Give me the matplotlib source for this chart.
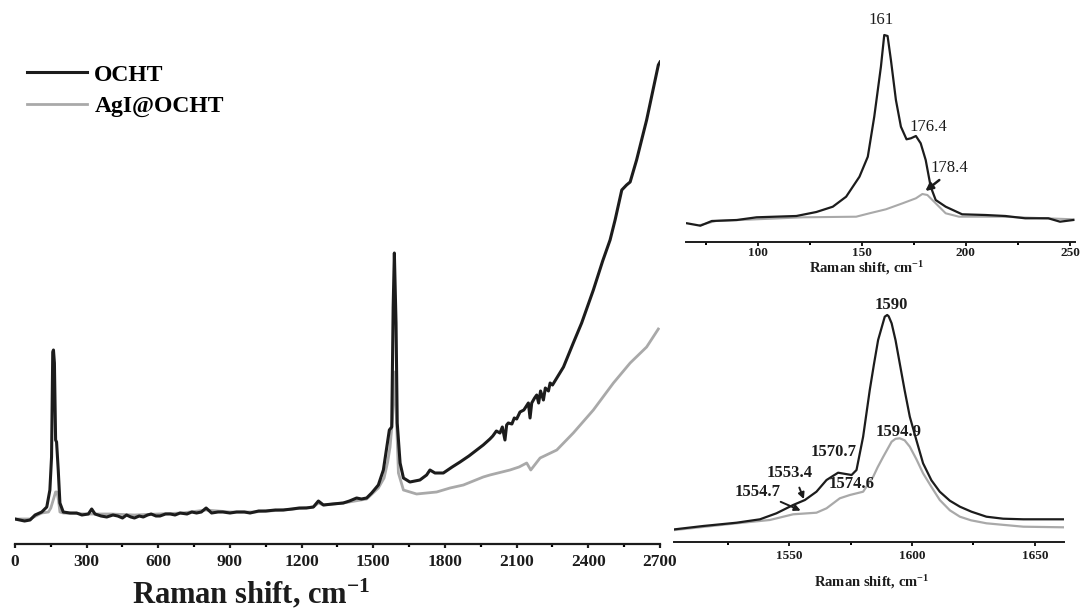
import matplotlib
matplotlib.use("Agg")
import matplotlib.pyplot as plt
from matplotlib.ticker import MultipleLocator

plt.rcParams['font.family'] = ['Liberation Serif', 'DejaVu Serif']
plt.rcParams['font.weight'] = 'bold'
plt.rcParams['mathtext.fontset'] = 'custom'
plt.rcParams['mathtext.rm'] = 'Liberation Serif:bold'
plt.rcParams['mathtext.it'] = 'Liberation Serif:bold'
plt.rcParams['mathtext.bf'] = 'Liberation Serif:bold'

# ---------------- data (arbitrary intensity units) ----
main_ocht_x = [0, 40, 63, 84, 112, 133, 146, 153, 158, 161, 165, 170, 174, 181, 188, 202,
               230, 258, 280, 307, 321, 335, 360, 384, 410, 430, 450, 467, 485, 500, 520,
               537, 555, 570, 590, 607, 630, 650, 670, 691, 720, 740, 760, 780, 800, 823,
               850, 870, 900, 928, 960, 984, 1020, 1050, 1090, 1123, 1160, 1190, 1220,
               1249, 1270, 1291, 1330, 1374, 1400, 1430, 1450, 1472, 1493, 1521, 1542,
               1559, 1567, 1577, 1583, 1588, 1595, 1600, 1612, 1626, 1653, 1695, 1723,
               1737, 1758, 1793, 1830, 1863, 1900, 1933, 1960, 1988, 2000, 2015, 2030,
               2040, 2051, 2058, 2065, 2080, 2090, 2100, 2114, 2130, 2149, 2156, 2163,
               2175, 2184, 2192, 2200, 2212, 2220, 2233, 2240, 2250, 2268, 2296, 2337,
               2372, 2421, 2460, 2491, 2512, 2540, 2560, 2575, 2602, 2644, 2693, 2700]
main_ocht_y = [24, 22, 23, 28, 31, 36, 53, 86, 191, 193, 180, 103, 101, 73, 40, 31,
               30, 30, 28, 29, 34, 29, 27, 26, 28, 27, 25, 28, 26, 25, 27,
               26, 28, 29, 27, 27, 29, 29, 28, 30, 29, 31, 30, 31, 35, 30,
               31, 31, 30, 31, 31, 30, 32, 32, 33, 33, 34, 35, 35,
               36, 42, 38, 39, 40, 42, 45, 44, 45, 50, 58, 73,
               100, 113, 116, 236, 290, 220, 120, 80, 65, 61, 63, 68,
               73, 70, 70, 76, 81, 87, 93, 98, 104, 107, 112, 110,
               116, 103, 118, 120, 119, 125, 124, 131, 133, 140, 125, 140,
               145, 148, 140, 152, 143, 155, 152, 160, 158, 165, 176, 200,
               220, 253, 282, 303, 323, 353, 358, 361, 383, 423, 478, 481]

main_agi_x = [0, 63, 112, 140, 150, 160, 170, 176, 182, 188, 202, 300, 400, 500, 600,
              700, 800, 900, 1000, 1123, 1249, 1270, 1291, 1374, 1472, 1521, 1545,
              1560, 1570, 1580, 1590, 1597, 1605, 1626, 1681, 1765, 1821, 1877, 1960,
              1988, 2072, 2110, 2142, 2159, 2198, 2268, 2337, 2421, 2505, 2575, 2644,
              2693]
main_agi_y = [24, 24, 30, 31, 35, 43, 51, 51, 43, 31, 30, 29, 29, 28, 29,
              30, 33, 31, 31, 33, 36, 40, 38, 40, 44, 55, 65,
              81, 96, 123, 171, 123, 70, 53, 49, 51, 55, 58, 66,
              68, 73, 76, 80, 73, 85, 93, 110, 133, 160, 180, 196,
              214]

low_ocht_x = [66.1, 72.5, 78, 90, 99.5, 118.6, 128.2, 136.1, 142.5, 148.9, 152.9, 156,
              159.2, 160.8, 162.4, 164, 166.4, 168.8, 171.5, 173.6, 176, 178.3, 180.7,
              183.1, 185.5, 190.3, 198.2, 209.4, 219, 228.5, 234.9, 239.6, 245.2, 251.6]
low_ocht_y = [18.4, 16, 20.7, 21.7, 24.4, 25.7, 29.7, 35, 45, 65, 85, 125,
              175, 206.7, 205.7, 181.7, 141.7, 115, 102.4, 103.4, 105.7, 98.4, 81.7,
              55, 41.7, 35, 27.4, 26.7, 25.7, 23.4, 23.4, 23.4, 20, 21.7]
low_agi_x = [72.5, 80, 99.5, 121.8, 147.3, 153.7, 161.6, 169.6, 176, 179.1, 181.5,
             185.5, 190.3, 196.7, 217.4, 251.6]
low_agi_y = [16.7, 20.7, 22.4, 24.4, 25, 28.4, 32.4, 38.4, 43.4, 47.7, 46.7,
             38.4, 28.4, 25, 25, 22.4]

g_ocht_x = [1503.5, 1515.0, 1528.6, 1538.1, 1544.8, 1551.6, 1556.4, 1561.1, 1565.2,
            1569.9, 1575.4, 1577.4, 1580.1, 1582.8, 1584.5, 1586.2, 1588.9, 1589.9,
            1590.5, 1591.7, 1593.3, 1595.0, 1597.0, 1599.1, 1601.8, 1604.5, 1607.9,
            1611.3, 1615.4, 1619.5, 1624.2, 1630.3, 1637.1, 1645.3, 1661.5]
g_ocht_y = [13, 16.3, 19.6, 23, 29, 37.3, 42.3, 50.6, 62.3,
            69.6, 67.3, 72.3, 105.6, 152.3, 178, 202.3, 225.6, 227.3,
            226, 219, 202, 179, 152, 125.6, 102, 79, 62,
            50.6, 41.6, 35.6, 30.6, 25.6, 23.6, 23, 23]
g_agi_x = [1503.5, 1528.6, 1542.1, 1551.6, 1561.1, 1565.2, 1570.6, 1574.7, 1580.1,
           1584.2, 1586.0, 1588.3, 1591.7, 1593.3, 1595.0, 1597.0, 1599.1, 1601.8,
           1604.5, 1608.0, 1611.3, 1615.4, 1619.5, 1624.0, 1630.3, 1645.3, 1661.5]
g_agi_y = [12.3, 19, 22.3, 28, 29.6, 34, 44, 47.3, 50.6,
           65.6, 75, 85.6, 100.6, 103.5, 104, 102, 95.6, 83,
           69, 55, 42.3, 32, 25.6, 22, 19, 15.6, 15]

series_names = ['OCHT', 'AgI@OCHT']
main_ticks = [0, 300, 600, 900, 1200, 1500, 1800, 2100, 2400, 2700]
low_ticks = [100, 150, 200, 250]
g_ticks = [1550, 1600, 1650]

BLACK = '#1c1c1c'
GRAY = '#a9a9a9'

W, H = 1080, 610
fig = plt.figure(figsize=(10.8, 6.1), dpi=100)


def frac(l, r, b, t):
    return [l / W, 1 - b / H, (r - l) / W, (b - t) / H]


def style_axis(ax, major, minor, lab_size, spine_w, pad):
    for s in ['left', 'right', 'top']:
        ax.spines[s].set_visible(False)
    ax.spines['bottom'].set_linewidth(spine_w)
    ax.spines['bottom'].set_color(BLACK)
    ax.set_yticks([])
    ax.set_xticks(major)
    ax.xaxis.set_minor_locator(MultipleLocator(minor))
    ax.tick_params(axis='x', which='major', direction='out', length=3,
                   width=spine_w, labelsize=lab_size, pad=pad, colors=BLACK)
    ax.tick_params(axis='x', which='minor', direction='out', length=2,
                   width=spine_w)
    for lab in ax.get_xticklabels():
        lab.set_fontweight('bold')
    ax.patch.set_alpha(0)


# ---------------- main panel ----------------
ax = fig.add_axes(frac(15, 660, 544, 40))
ax.plot(main_agi_x, main_agi_y, color=GRAY, lw=2.0, label=series_names[1])
ax.plot(main_ocht_x, main_ocht_y, color=BLACK, lw=2.2, label=series_names[0])
ax.set_xlim(0, 2700)
ax.set_ylim(-1, 503)
style_axis(ax, main_ticks, 150, 12.5, 1.6, 4.5)
h, l = ax.get_legend_handles_labels()
leg = fig.legend([h[1], h[0]], [l[1], l[0]], loc='upper left',
                 bbox_to_anchor=(27 / W, 1 - 64 / H), frameon=False,
                 prop={'family': 'Liberation Serif', 'weight': 'bold', 'size': 17},
                 handlelength=2.55, handletextpad=0.3, labelspacing=0.42,
                 borderpad=0, borderaxespad=0)
fig.text(251 / W, 7 / H, r'Raman shift, cm$^{-1}$', ha='center', va='baseline',
         fontsize=22, fontweight='bold', color=BLACK)

# ---------------- top inset (low wavenumber) ----------------
ax1 = fig.add_axes(frac(686, 1075, 241.7, 10))
ax1.plot(low_agi_x, low_agi_y, color=GRAY, lw=1.5)
ax1.plot(low_ocht_x, low_ocht_y, color=BLACK, lw=1.6)
ax1.set_xlim(65.6, 252.4)
ax1.set_ylim(0, 231.7)
style_axis(ax1, low_ticks, 25, 9.5, 1.4, 0.5)
fig.text(867 / W, 1 - 273 / H, r'Raman shift, cm$^{-1}$', ha='center',
         va='baseline', fontsize=10.5, fontweight='bold', color=BLACK)
ann_kw = dict(fontsize=12, fontweight='normal', color=BLACK, ha='center',
              va='center')
ax1.text(159.5, 221.7, '161', **ann_kw)
ax1.text(181.9, 115, '176.4', **ann_kw)
ax1.text(192.3, 73.4, '178.4', **ann_kw)
ax1.annotate('', xy=(179.5, 49), xytext=(188.3, 63.4),
             arrowprops=dict(arrowstyle='-|>', color=BLACK, lw=1.8,
                             mutation_scale=11))

# ---------------- bottom inset (G band) ----------------
ax2 = fig.add_axes(frac(674, 1064.3, 542.3, 295))
ax2.plot(g_agi_x, g_agi_y, color=GRAY, lw=1.6)
ax2.plot(g_ocht_x, g_ocht_y, color=BLACK, lw=1.6)
ax2.set_xlim(1503.1, 1662)
ax2.set_ylim(0, 247.3)
style_axis(ax2, g_ticks, 25, 9.5, 1.4, 2.5)
fig.text(872 / W, 1 - 587 / H, r'Raman shift, cm$^{-1}$', ha='center',
         va='baseline', fontsize=10.5, fontweight='bold', color=BLACK)
bkw = dict(fontsize=12, fontweight='bold', color=BLACK, ha='center', va='center')
ax2.text(1591.7, 237.3, '1590', **bkw)
ax2.text(1594.4, 110.6, '1594.9', **bkw)
ax2.text(1567.9, 90.6, '1570.7', **bkw)
ax2.text(1550.3, 69.6, '1553.4', **bkw)
ax2.text(1575.4, 58, '1574.6', **bkw)
ax2.text(1537, 50.6, '1554.7', **bkw)
ax2.annotate('', xy=(1556.4, 40.6), xytext=(1553.7, 57.3),
             arrowprops=dict(arrowstyle='-|>', color=BLACK, lw=1.4,
                             mutation_scale=9))
ax2.annotate('', xy=(1555.7, 30.6), xytext=(1545.5, 41.6),
             arrowprops=dict(arrowstyle='-|>', color=BLACK, lw=1.4,
                             mutation_scale=9))

fig.savefig('out.png', dpi=100)
